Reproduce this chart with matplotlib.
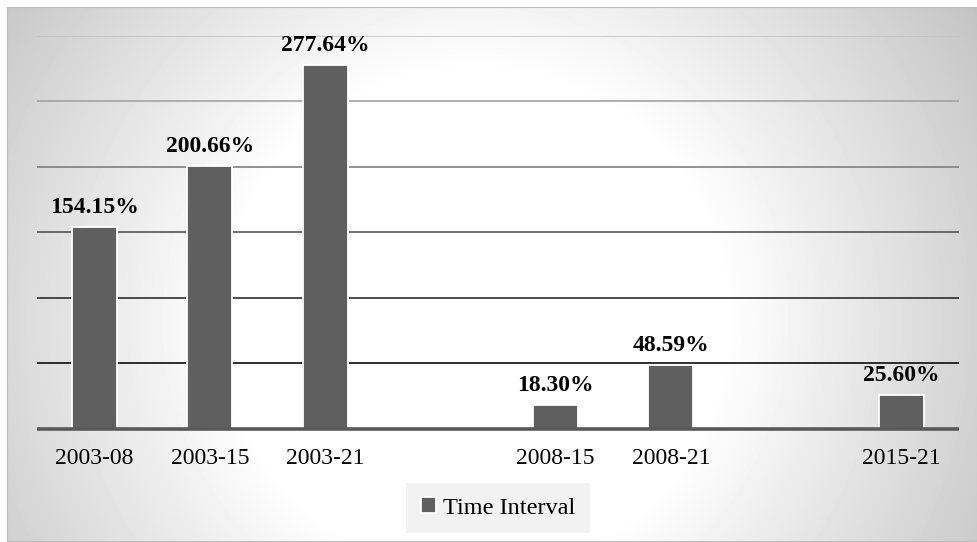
import numpy as np
import matplotlib
matplotlib.use("Agg")
import matplotlib.pyplot as plt
from matplotlib.patches import Rectangle

# Growth over each time interval (%)
categories = ["2003-08", "2003-15", "2003-21", "", "2008-15", "2008-21", "", "2015-21"]
values = [154.15, 200.66, 277.64, np.nan, 18.30, 48.59, np.nan, 25.60]
series_name = "Time Interval"
grid_levels = [50, 100, 150, 200, 250, 300]
grid_colors = ["#0d0d0d", "#2e2e2e", "#555555", "#7f7f7f", "#a3a3a3", "#c4c4c4"]

W, H = 978, 542
fig = plt.figure(figsize=(W / 100, H / 100), dpi=100)
fig.patch.set_facecolor("white")

# Radial grey-to-white background panel
x0_px, y0_px = 7, 7
bw, bh = W - x0_px, H - y0_px
bg = fig.add_axes([x0_px / W, 0, bw / W, bh / H])
yy, xx = np.mgrid[0:bh, 0:bw]
cx, cy = 475 - x0_px, 320 - y0_px
r = np.hypot(xx - cx, yy - cy)
t = np.clip((r - 250) / (600 - 250), 0, 1)
shade = 1 - 0.24 * t
bg.imshow(shade, cmap="gray", vmin=0, vmax=1, aspect="auto",
          extent=[0, bw, bh, 0], interpolation="bilinear")
bg.add_patch(Rectangle((0, 0), bw, bh, fill=False, edgecolor="#bdbdbd", linewidth=1.5))
bg.set_xlim(0, bw)
bg.set_ylim(bh, 0)
bg.axis("off")

# Plot area
left, right = 37, 959
top, base = 35.7, 428.5
ax = fig.add_axes([left / W, (H - base) / H, (right - left) / W, (base - top) / H])
ax.patch.set_alpha(0)

x = np.arange(len(categories))
ax.set_xlim(-0.5, len(categories) - 0.5)
ax.set_ylim(0, 300)

for lvl, col in zip(grid_levels, grid_colors):
    ax.axhline(lvl, color=col, linewidth=1.2, zorder=1, solid_capstyle="butt")

bars = ax.bar(x, values, width=0.39, color="#5f5f5f", edgecolor="white",
              linewidth=1.3, zorder=3, label=series_name)
ax.axhline(0, color="#595959", linewidth=2.6, zorder=4, clip_on=False,
           solid_capstyle="butt")

for xi, v in zip(x, values):
    if np.isnan(v):
        continue
    ax.annotate(f"{v:.2f}%", (xi, v), xytext=(0, 6.5), textcoords="offset points",
                ha="center", va="bottom", fontsize=17, fontweight="bold",
                family="Liberation Serif", color="black", zorder=5,
                annotation_clip=False)

ax.set_xticks(x)
ax.set_xticklabels(categories, family="Liberation Serif", fontsize=17)
ax.tick_params(axis="x", length=0, pad=14)
ax.set_yticks([])
for s in ax.spines.values():
    s.set_visible(False)

leg = ax.legend(loc="center", bbox_to_anchor=(498 / W, 1 - 508 / H),
                bbox_transform=fig.transFigure, frameon=True, fancybox=False,
                prop={"family": "Liberation Serif", "size": 17.5},
                handlelength=0.6, handleheight=0.6, handletextpad=0.3,
                borderpad=0.6, borderaxespad=0)
leg.get_frame().set_facecolor("#f2f2f2")
leg.get_frame().set_edgecolor("none")
leg.get_frame().set_alpha(1)

fig.savefig("out.png", dpi=100)
